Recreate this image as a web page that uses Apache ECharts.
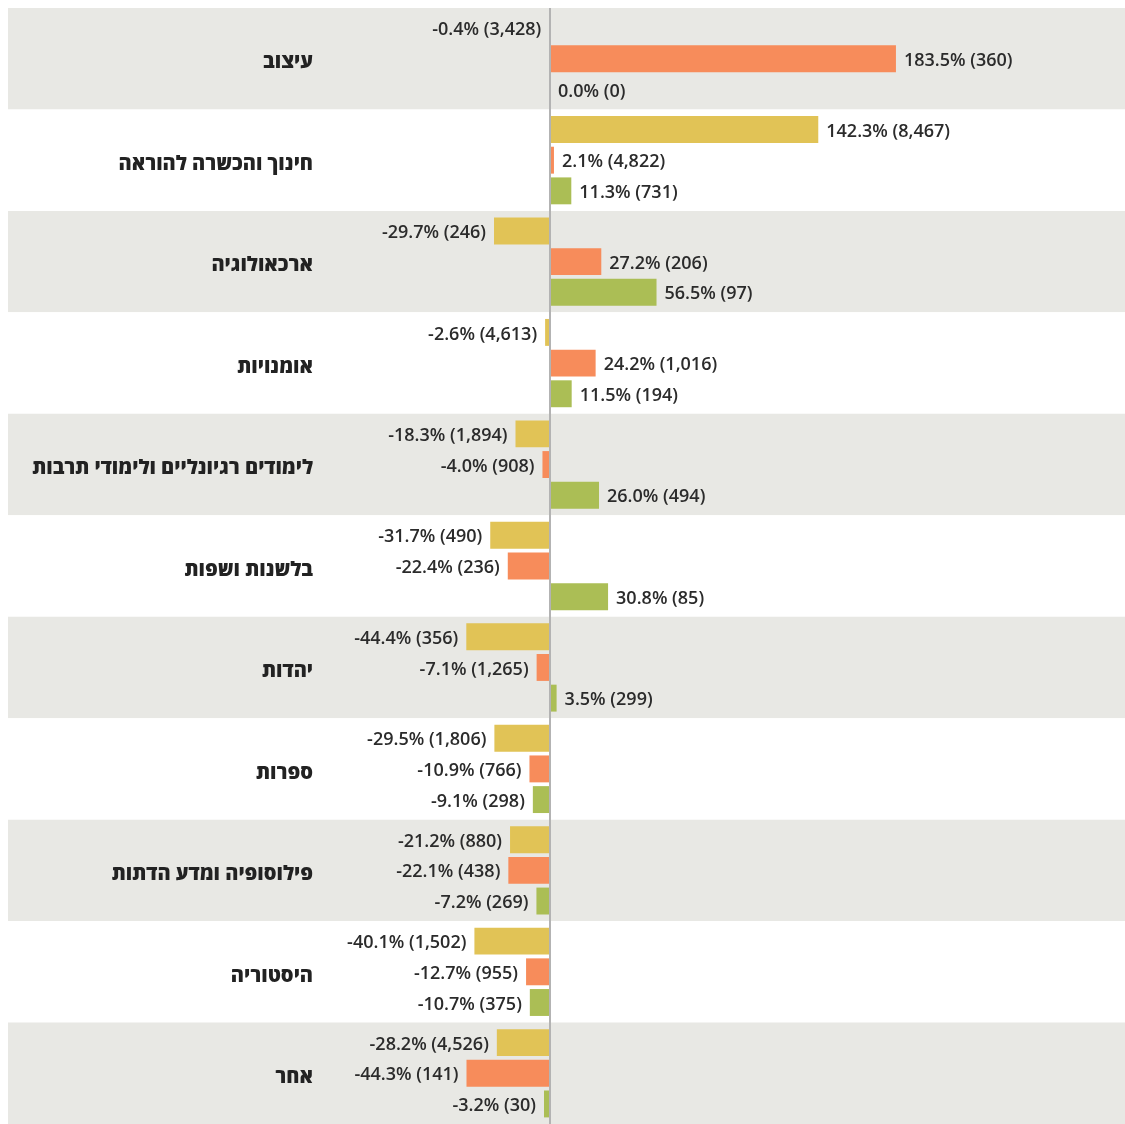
<!DOCTYPE html>
<html>
<head>
<meta charset="utf-8">
<script src="https://cdn.jsdelivr.net/npm/echarts@6/dist/echarts.min.js"></script>
<style>
html,body{margin:0;padding:0;background:#fff;}
#chart{width:1125px;height:1124px;}
</style>
</head>
<body>
<div id="chart"></div>
<script>
const categories = ['עיצוב','חינוך והכשרה להוראה','ארכאולוגיה','אומנויות','לימודים רגיונליים ולימודי תרבות','בלשנות ושפות','יהדות','ספרות','פילוסופיה ומדע הדתות','היסטוריה','אחר'];
const yellowPct = [-0.4, 142.3, -29.7, -2.6, -18.3, -31.7, -44.4, -29.5, -21.2, -40.1, -28.2];
const yellowCount = [3428, 8467, 246, 4613, 1894, 490, 356, 1806, 880, 1502, 4526];
const orangePct = [183.5, 2.1, 27.2, 24.2, -4.0, -22.4, -7.1, -10.9, -22.1, -12.7, -44.3];
const orangeCount = [360, 4822, 206, 1016, 908, 236, 1265, 766, 438, 955, 141];
const greenPct = [0.0, 11.3, 56.5, 11.5, 26.0, 30.8, 3.5, -9.1, -7.2, -10.7, -3.2];
const greenCount = [0, 731, 97, 194, 494, 85, 299, 298, 269, 375, 30];

const VALUE_FONT = '"Open Sans", "DejaVu Sans", sans-serif';
const CAT_FONT = '"Open Sans", "DejaVu Sans", sans-serif';

function makeData(pcts, counts) {
  return pcts.map((v, i) => ({
    value: v,
    count: counts[i],
    label: { position: v < 0 ? 'left' : 'right' }
  }));
}
function fmt(p) {
  const v = p.data.value;
  return v.toFixed(1) + '% (' + p.data.count.toLocaleString('en-US') + ')';
}
function makeSeries(name, pcts, counts, color, extra) {
  return Object.assign({
    name: name,
    type: 'bar',
    data: makeData(pcts, counts),
    itemStyle: { color: color },
    barCategoryGap: '13%',
    barGap: '14%',
    label: {
      show: true,
      distance: 8,
      offset: [0, 2],
      formatter: fmt,
      color: '#2b2b2b',
      fontSize: 18,
      fontWeight: 600,
      fontFamily: VALUE_FONT
    }
  }, extra || {});
}

const chart = echarts.init(document.getElementById('chart'), null, { renderer: 'canvas' });
chart.setOption({
  animation: false,
  backgroundColor: '#ffffff',
  grid: { left: 8, width: 1117, top: 8, height: 1118.7, containLabel: false },
  xAxis: {
    type: 'value',
    min: -287.5,
    max: 305,
    show: false,
    splitLine: { show: false }
  },
  yAxis: {
    type: 'category',
    data: categories,
    inverse: true,
    axisLine: { show: false },
    axisTick: { show: false },
    splitLine: { show: false },
    splitArea: { show: true, areaStyle: { color: ['#e8e8e4', '#ffffff'] } },
    axisLabel: {
      inside: true,
      align: 'right',
      margin: 305,
      formatter: function (v) { return '{c|' + v + '}'; },
      rich: {
        c: {
          fontSize: 20,
          fontWeight: 800,
          color: '#222222',
          fontFamily: CAT_FONT,
          padding: [8, 0, 0, 0]
        }
      }
    }
  },
  series: [
    makeSeries('yellow', yellowPct, yellowCount, '#e1c356'),
    makeSeries('orange', orangePct, orangeCount, '#f78c5b'),
    makeSeries('green', greenPct, greenCount, '#abbe55', {
      markLine: {
        silent: true,
        symbol: ['none', 'none'],
        label: { show: false },
        lineStyle: { color: '#b3b3b3', width: 2, type: 'solid' },
        data: [{ xAxis: 0 }],
        z: 10
      }
    })
  ]
});
</script>
</body>
</html>
